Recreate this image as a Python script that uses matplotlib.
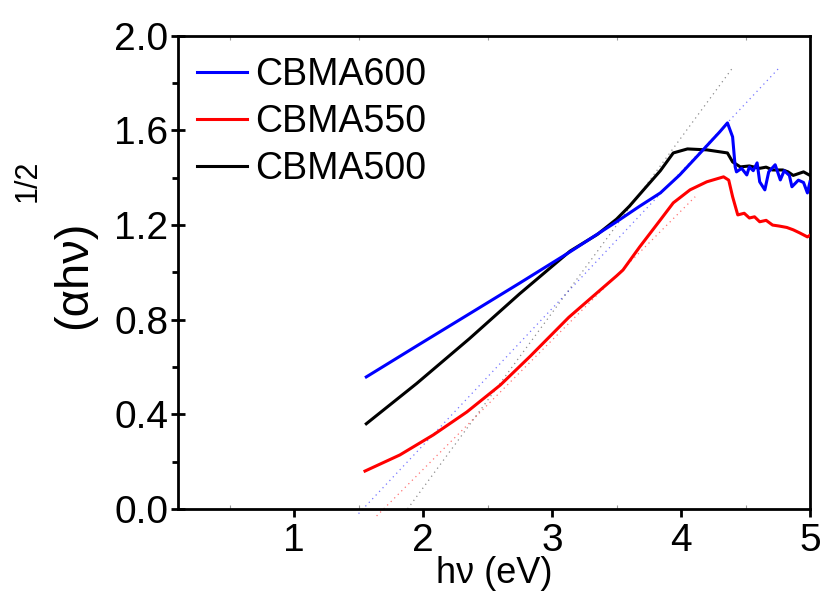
import matplotlib
matplotlib.use("Agg")
import matplotlib.pyplot as plt
from matplotlib.ticker import MultipleLocator

plt.rcParams['font.family'] = ['Liberation Sans', 'DejaVu Sans']

# ---- data ----
x_600 = [1.56, 1.96, 2.36, 2.75, 3.14, 3.50, 3.68, 3.84, 3.99, 4.12, 4.22,
         4.30, 4.36, 4.40, 4.42, 4.43, 4.47, 4.51, 4.53, 4.56, 4.59, 4.61, 4.65,
         4.68, 4.73, 4.77, 4.80, 4.84, 4.86, 4.91, 4.95, 4.98, 5.00]
y_600 = [0.558, 0.692, 0.825, 0.955, 1.087, 1.214, 1.28, 1.336, 1.412,
         1.488, 1.547, 1.594, 1.632, 1.573, 1.446, 1.425, 1.44, 1.412, 1.446,
         1.43, 1.463, 1.383, 1.349, 1.425, 1.455, 1.391, 1.43, 1.41, 1.362,
         1.39, 1.38, 1.336, 1.383]

x_550 = [1.55, 1.82, 2.08, 2.34, 2.60, 2.83, 3.13, 3.32, 3.50, 3.55, 3.68, 3.84,
         3.94, 4.07, 4.20, 4.33, 4.37, 4.40, 4.44, 4.49, 4.53, 4.57, 4.61, 4.66,
         4.71, 4.76, 4.82, 4.87, 4.92, 4.98, 5.00]
y_550 = [0.16, 0.228, 0.313, 0.41, 0.524, 0.645, 0.81, 0.90, 0.985, 1.01, 1.108,
         1.222, 1.294, 1.349, 1.383, 1.404, 1.39, 1.32, 1.243, 1.25, 1.23, 1.235,
         1.214, 1.22, 1.20, 1.196, 1.19, 1.18, 1.167, 1.15, 1.157]

x_500 = [1.56, 1.95, 2.36, 2.75, 3.14, 3.35, 3.50, 3.60, 3.71, 3.84, 3.94,
         4.05, 4.20, 4.36, 4.40, 4.46, 4.53, 4.61, 4.66, 4.71, 4.79, 4.83,
         4.87, 4.95, 5.00]
y_500 = [0.36, 0.53, 0.72, 0.91, 1.09, 1.16, 1.225, 1.28, 1.349, 1.43, 1.505,
         1.522, 1.518, 1.505, 1.467, 1.446, 1.45, 1.44, 1.445, 1.433, 1.433,
         1.425, 1.41, 1.425, 1.41]

# tangent (Tauc) extrapolation lines
tx_600 = [1.50, 4.77]
ty_600 = [-0.02, 1.87]
tx_550 = [1.64, 4.11]
ty_550 = [-0.03, 1.32]
tx_500 = [1.88, 4.40]
ty_500 = [0.0, 1.865]

fig = plt.figure(figsize=(8.24, 6.08), dpi=100)
ax = fig.add_axes([0.216, 0.163, 0.767, 0.778])

ax.plot(tx_600, ty_600, color="blue", lw=0.9, ls=(0, (1, 3)), alpha=0.55,
        clip_on=False)
ax.plot(tx_550, ty_550, color="red", lw=0.9, ls=(0, (1, 3)), alpha=0.55,
        clip_on=False)
ax.plot(tx_500, ty_500, color="black", lw=0.9, ls=(0, (1, 3)), alpha=0.45)

ax.plot(x_500, y_500, color="black", lw=2.2, label="CBMA500", zorder=3)
ax.plot(x_550, y_550, color="red", lw=2.2, label="CBMA550", zorder=3)
ax.plot(x_600, y_600, color="blue", lw=2.2, label="CBMA600", zorder=4)

ax.set_xlim(0.1, 5.0)
ax.set_ylim(0.0, 2.0)
ax.xaxis.set_major_locator(MultipleLocator(1))
ax.xaxis.set_minor_locator(MultipleLocator(0.5))
ax.yaxis.set_major_locator(MultipleLocator(0.4))
ax.yaxis.set_minor_locator(MultipleLocator(0.2))
ax.yaxis.set_major_formatter(plt.FormatStrFormatter("%.1f"))

for s in ax.spines.values():
    s.set_linewidth(2)
ax.tick_params(axis="x", which="major", direction="out", length=6, width=2,
               labelsize=28, pad=4)
ax.tick_params(axis="x", which="minor", direction="out", length=4, width=2)
ax.tick_params(axis="y", which="major", direction="inout", length=10, width=2,
               labelsize=28, pad=2)
ax.tick_params(axis="y", which="minor", direction="out", length=4, width=2)
ax.tick_params(axis="x", which="minor", top=True, direction="in", length=3,
               width=0.8, color="#999999")

ax.set_xlabel("hν (eV)", fontsize=26, labelpad=-2)
fig.text(0.0898, 0.548, "(αhν)", rotation=90, fontsize=34,
         ha="center", va="center")
fig.text(0.033, 0.702, "1/2", rotation=90, fontsize=22,
         ha="center", va="center")

handles, labels = ax.get_legend_handles_labels()
order = [2, 1, 0]
ax.legend([handles[i] for i in order], [labels[i] for i in order],
          loc="upper left", frameon=False, fontsize=27, handlelength=1.35,
          handletextpad=0.2, labelspacing=0.3, borderaxespad=0.1,
          bbox_to_anchor=(0.0, 0.995))

fig.savefig("out.png", dpi=100)
